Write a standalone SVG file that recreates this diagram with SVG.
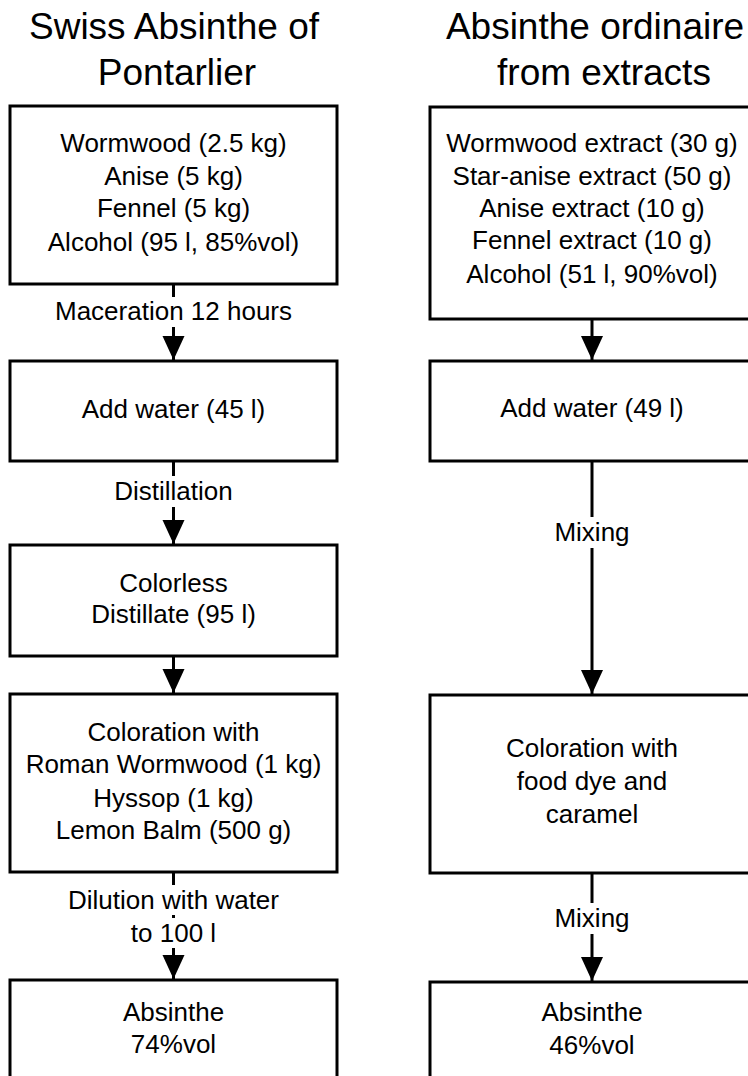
<svg xmlns="http://www.w3.org/2000/svg" width="748" height="1076" viewBox="0 0 748 1076">
<style>
text{font-family:"Liberation Sans",Arial,sans-serif;fill:#000;text-anchor:middle}
.t{font-size:37px}
.b{font-size:26px}
.box{fill:#fff;stroke:#000;stroke-width:3}
.ln{stroke:#000;stroke-width:3;fill:none}
.bg{fill:#fff}
</style>
<defs>
<marker id="ah" markerUnits="userSpaceOnUse" markerWidth="24" markerHeight="24" viewBox="0 0 24 22" refX="24" refY="11" orient="auto">
<path d="M0,0 L24,11 L0,22 Z" fill="#000"/>
</marker>
</defs>
<g id="titles">
<text class="t" x="174" y="39">Swiss Absinthe of</text>
<text class="t" x="177" y="85">Pontarlier</text>
<text class="t" x="595" y="39">Absinthe ordinaire</text>
<text class="t" x="604" y="85">from extracts</text>
</g>
<g id="connectors">
<line class="ln" x1="173.5" y1="284" x2="173.5" y2="360" marker-end="url(#ah)"/>
<line class="ln" x1="173.5" y1="461" x2="173.5" y2="544" marker-end="url(#ah)"/>
<line class="ln" x1="173.5" y1="656" x2="173.5" y2="693" marker-end="url(#ah)"/>
<line class="ln" x1="173.5" y1="872" x2="173.5" y2="979" marker-end="url(#ah)"/>
<line class="ln" x1="592" y1="319" x2="592" y2="360" marker-end="url(#ah)"/>
<line class="ln" x1="592" y1="461" x2="592" y2="694" marker-end="url(#ah)"/>
<line class="ln" x1="592" y1="873" x2="592" y2="981" marker-end="url(#ah)"/>
<rect class="bg" x="48" y="297" width="250" height="30"/>
<text class="b" x="173.5" y="320">Maceration 12 hours</text>
<rect class="bg" x="108" y="476" width="132" height="31"/>
<text class="b" x="173.5" y="500">Distillation</text>
<rect class="bg" x="60" y="885" width="228" height="30"/>
<text class="b" x="173.5" y="909">Dilution with water</text>
<rect class="bg" x="124" y="918" width="100" height="30"/>
<text class="b" x="173.5" y="942">to 100 l</text>
<rect class="bg" x="550" y="517" width="84" height="31"/>
<text class="b" x="592" y="541">Mixing</text>
<rect class="bg" x="550" y="903" width="84" height="31"/>
<text class="b" x="592" y="927">Mixing</text>
</g>
<g id="L1">
<rect class="box" x="10" y="106" width="327" height="178"/>
<text class="b" x="173.5" y="152">Wormwood (2.5 kg)</text>
<text class="b" x="173.5" y="185">Anise (5 kg)</text>
<text class="b" x="173.5" y="217">Fennel (5 kg)</text>
<text class="b" x="173.5" y="251">Alcohol (95 l, 85%vol)</text>
</g>
<g id="L2">
<rect class="box" x="10" y="361" width="327" height="100"/>
<text class="b" x="173.5" y="418">Add water (45 l)</text>
</g>
<g id="L3">
<rect class="box" x="10" y="545" width="327" height="111"/>
<text class="b" x="173.5" y="592">Colorless</text>
<text class="b" x="173.5" y="623">Distillate (95 l)</text>
</g>
<g id="L4">
<rect class="box" x="10" y="694" width="327" height="178"/>
<text class="b" x="173.5" y="741">Coloration with</text>
<text class="b" x="173.5" y="773">Roman Wormwood (1 kg)</text>
<text class="b" x="173.5" y="807">Hyssop (1 kg)</text>
<text class="b" x="173.5" y="839">Lemon Balm (500 g)</text>
</g>
<g id="L5">
<rect class="box" x="10" y="980" width="327" height="130"/>
<text class="b" x="173.5" y="1021">Absinthe</text>
<text class="b" x="173.5" y="1053">74%vol</text>
</g>
<g id="R1">
<rect class="box" x="430" y="107" width="324" height="212"/>
<text class="b" x="592" y="152">Wormwood extract (30 g)</text>
<text class="b" x="592" y="185">Star-anise extract (50 g)</text>
<text class="b" x="592" y="217">Anise extract (10 g)</text>
<text class="b" x="592" y="249">Fennel extract (10 g)</text>
<text class="b" x="592" y="283">Alcohol (51 l, 90%vol)</text>
</g>
<g id="R2">
<rect class="box" x="430" y="361" width="324" height="100"/>
<text class="b" x="592" y="417">Add water (49 l)</text>
</g>
<g id="R3">
<rect class="box" x="430" y="695" width="324" height="178"/>
<text class="b" x="592" y="757">Coloration with</text>
<text class="b" x="592" y="790">food dye and</text>
<text class="b" x="592" y="823">caramel</text>
</g>
<g id="R4">
<rect class="box" x="430" y="982" width="324" height="130"/>
<text class="b" x="592" y="1021">Absinthe</text>
<text class="b" x="592" y="1054">46%vol</text>
</g>
</svg>
